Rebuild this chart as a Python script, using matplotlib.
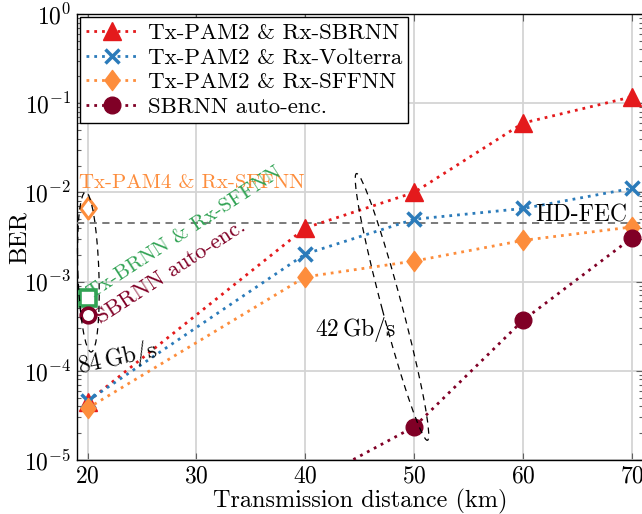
import matplotlib
matplotlib.use("Agg")
import matplotlib.pyplot as plt
import matplotlib.transforms as mtransforms
from matplotlib.patches import Ellipse
from matplotlib.path import Path
from matplotlib.ticker import LogLocator, NullFormatter

plt.rcParams['font.family'] = ['cmr10', 'DejaVu Serif']
plt.rcParams['mathtext.fontset'] = 'cm'
plt.rcParams['axes.formatter.use_mathtext'] = True
plt.rcParams['axes.unicode_minus'] = False

# ---------------- data ----------------
distance = [20, 40, 50, 60, 70]
ber_sbrnn = [4.5e-5, 4.0e-3, 1.0e-2, 6.0e-2, 1.18e-1]
ber_volterra = [4.6e-5, 2.04e-3, 5.0e-3, 6.6e-3, 1.11e-2]
ber_sffnn = [3.8e-5, 1.13e-3, 1.7e-3, 2.9e-3, 4.1e-3]
distance_ae = [40, 50, 60, 70]
ber_ae = [5.2e-6, 2.36e-5, 3.7e-4, 3.1e-3]

# single points at 84 Gb/s (20 km)
x84 = 20
ber_pam4_sffnn = 6.6e-3
ber_brnn_sffnn = 6.6e-4
ber_ae_84 = 4.2e-4

hd_fec = 4.5e-3

labels = ["Tx-PAM2 & Rx-SBRNN", "Tx-PAM2 & Rx-Volterra",
          "Tx-PAM2 & Rx-SFFNN", "SBRNN auto-enc."]

c_red = '#e41a1c'
c_blue = '#2b7bba'
c_orange = '#fd8d3c'
c_dark = '#800026'
c_green = '#31a354'

diamond = Path([(0, 1), (0.75, 0), (0, -1), (-0.75, 0), (0, 1)],
               [Path.MOVETO, Path.LINETO, Path.LINETO, Path.LINETO, Path.CLOSEPOLY])

fig = plt.figure(figsize=(6.42, 5.14), dpi=100)
ax = fig.add_axes([76.7 / 642, 1 - 460 / 514, (643 - 76.7) / 642, (460 - 14) / 514])

dots = (0, (1, 1.8))
lw = 2.0
ax.plot(distance, ber_sbrnn, color=c_red, ls=dots, lw=lw, marker='^', ms=13,
        label=labels[0], zorder=4)
ax.plot(distance, ber_volterra, color=c_blue, ls=dots, lw=lw, marker='x', ms=10,
        mew=2.5, label=labels[1], zorder=4)
ax.plot(distance, ber_sffnn, color=c_orange, ls=dots, lw=lw, marker=diamond, ms=14.5,
        label=labels[2], zorder=4)
ax.plot(distance_ae, ber_ae, color=c_dark, ls=dots, lw=lw, marker='o', ms=12,
        label=labels[3], zorder=4)

# open markers (84 Gb/s)
ax.plot([x84], [ber_pam4_sffnn], ls='none', marker=diamond, ms=15, mfc='white',
        mec=c_orange, mew=2.2, zorder=5)
ax.plot([x84], [ber_brnn_sffnn], ls='none', marker='s', ms=11, mfc='white',
        mec=c_green, mew=2.6, zorder=5)
ax.plot([x84], [ber_ae_84], ls='none', marker='o', ms=10.5, mfc='white',
        mec=c_dark, mew=2.6, zorder=5)

# HD-FEC
ax.axhline(hd_fec, color='#707070', ls=(0, (4, 3)), lw=1.3, zorder=3)
ax.text(69.6, hd_fec * 1.05, 'HD-FEC', ha='right', va='baseline', fontsize=17, zorder=6)

# annotations
ax.text(19.2, 1.0e-2, 'Tx-PAM4 & Rx-SFFNN', color=c_orange, fontsize=15,
        ha='left', va='bottom', zorder=6)
ax.text(20.6, 5.8e-4, 'Tx-BRNN & Rx-SFFNN', color=c_green, fontsize=15,
        rotation=33, rotation_mode='anchor', ha='left', va='bottom', zorder=6)
ax.text(21.4, 3.1e-4, 'SBRNN auto-enc.', color=c_dark, fontsize=16,
        rotation=33, rotation_mode='anchor', ha='left', va='bottom', zorder=6)
ax.text(19.35, 7.6e-5, r'$84\,\mathrm{Gb/s}$', fontsize=17, rotation=12,
        rotation_mode='anchor', ha='left', va='bottom', zorder=6)
ax.text(40.9, 2.0e-4, r'$42\,\mathrm{Gb/s}$', fontsize=17,
        ha='left', va='bottom', zorder=6)

# dashed ellipses (size in inches, centred at data points)
def add_ellipse(xc, yc, w_in, h_in, angle):
    tr = fig.dpi_scale_trans + mtransforms.ScaledTranslation(xc, yc, ax.transData)
    e = Ellipse((0, 0), w_in, h_in, angle=angle, transform=tr, fill=False,
                ec='black', lw=0.9, ls=(0, (5, 4)), zorder=6, clip_on=False)
    ax.add_patch(e)

add_ellipse(20.07, 1.28e-3, 1.6, 0.21, -88)
add_ellipse(47.95, 5.2e-4, 2.76, 0.2, -75.1)

ax.set_yscale('log')
ax.set_xlim(19, 71)
ax.set_ylim(1e-5, 1)
ax.set_xticks([20, 30, 40, 50, 60, 70])
ax.yaxis.set_major_locator(LogLocator(base=10, numticks=10))
ax.yaxis.set_minor_locator(LogLocator(base=10, subs=range(2, 10), numticks=20))
ax.yaxis.set_minor_formatter(NullFormatter())

ax.grid(True, which='major', color='#d4d4d4', lw=1.3)
ax.set_axisbelow(True)
ax.tick_params(which='both', direction='in', top=True, right=True, labelsize=17)
ax.tick_params(which='major', length=5, width=0.8, color='#606060', pad=4)
ax.tick_params(which='minor', length=3, width=0.8, color='#606060')
for s in ax.spines.values():
    s.set_linewidth(1.0)

ax.set_xlabel('Transmission distance (km)', fontsize=17.5, labelpad=1)
ax.set_ylabel('BER', fontsize=18, labelpad=-5)

leg = ax.legend(loc='upper left', fontsize=16.5, frameon=True, fancybox=False,
                edgecolor='black', framealpha=1, handlelength=2.3, borderaxespad=0.15,
                labelspacing=0.2, handletextpad=0.4, borderpad=0.25)
leg.get_frame().set_linewidth(1.0)

fig.savefig('out.png', dpi=100)
